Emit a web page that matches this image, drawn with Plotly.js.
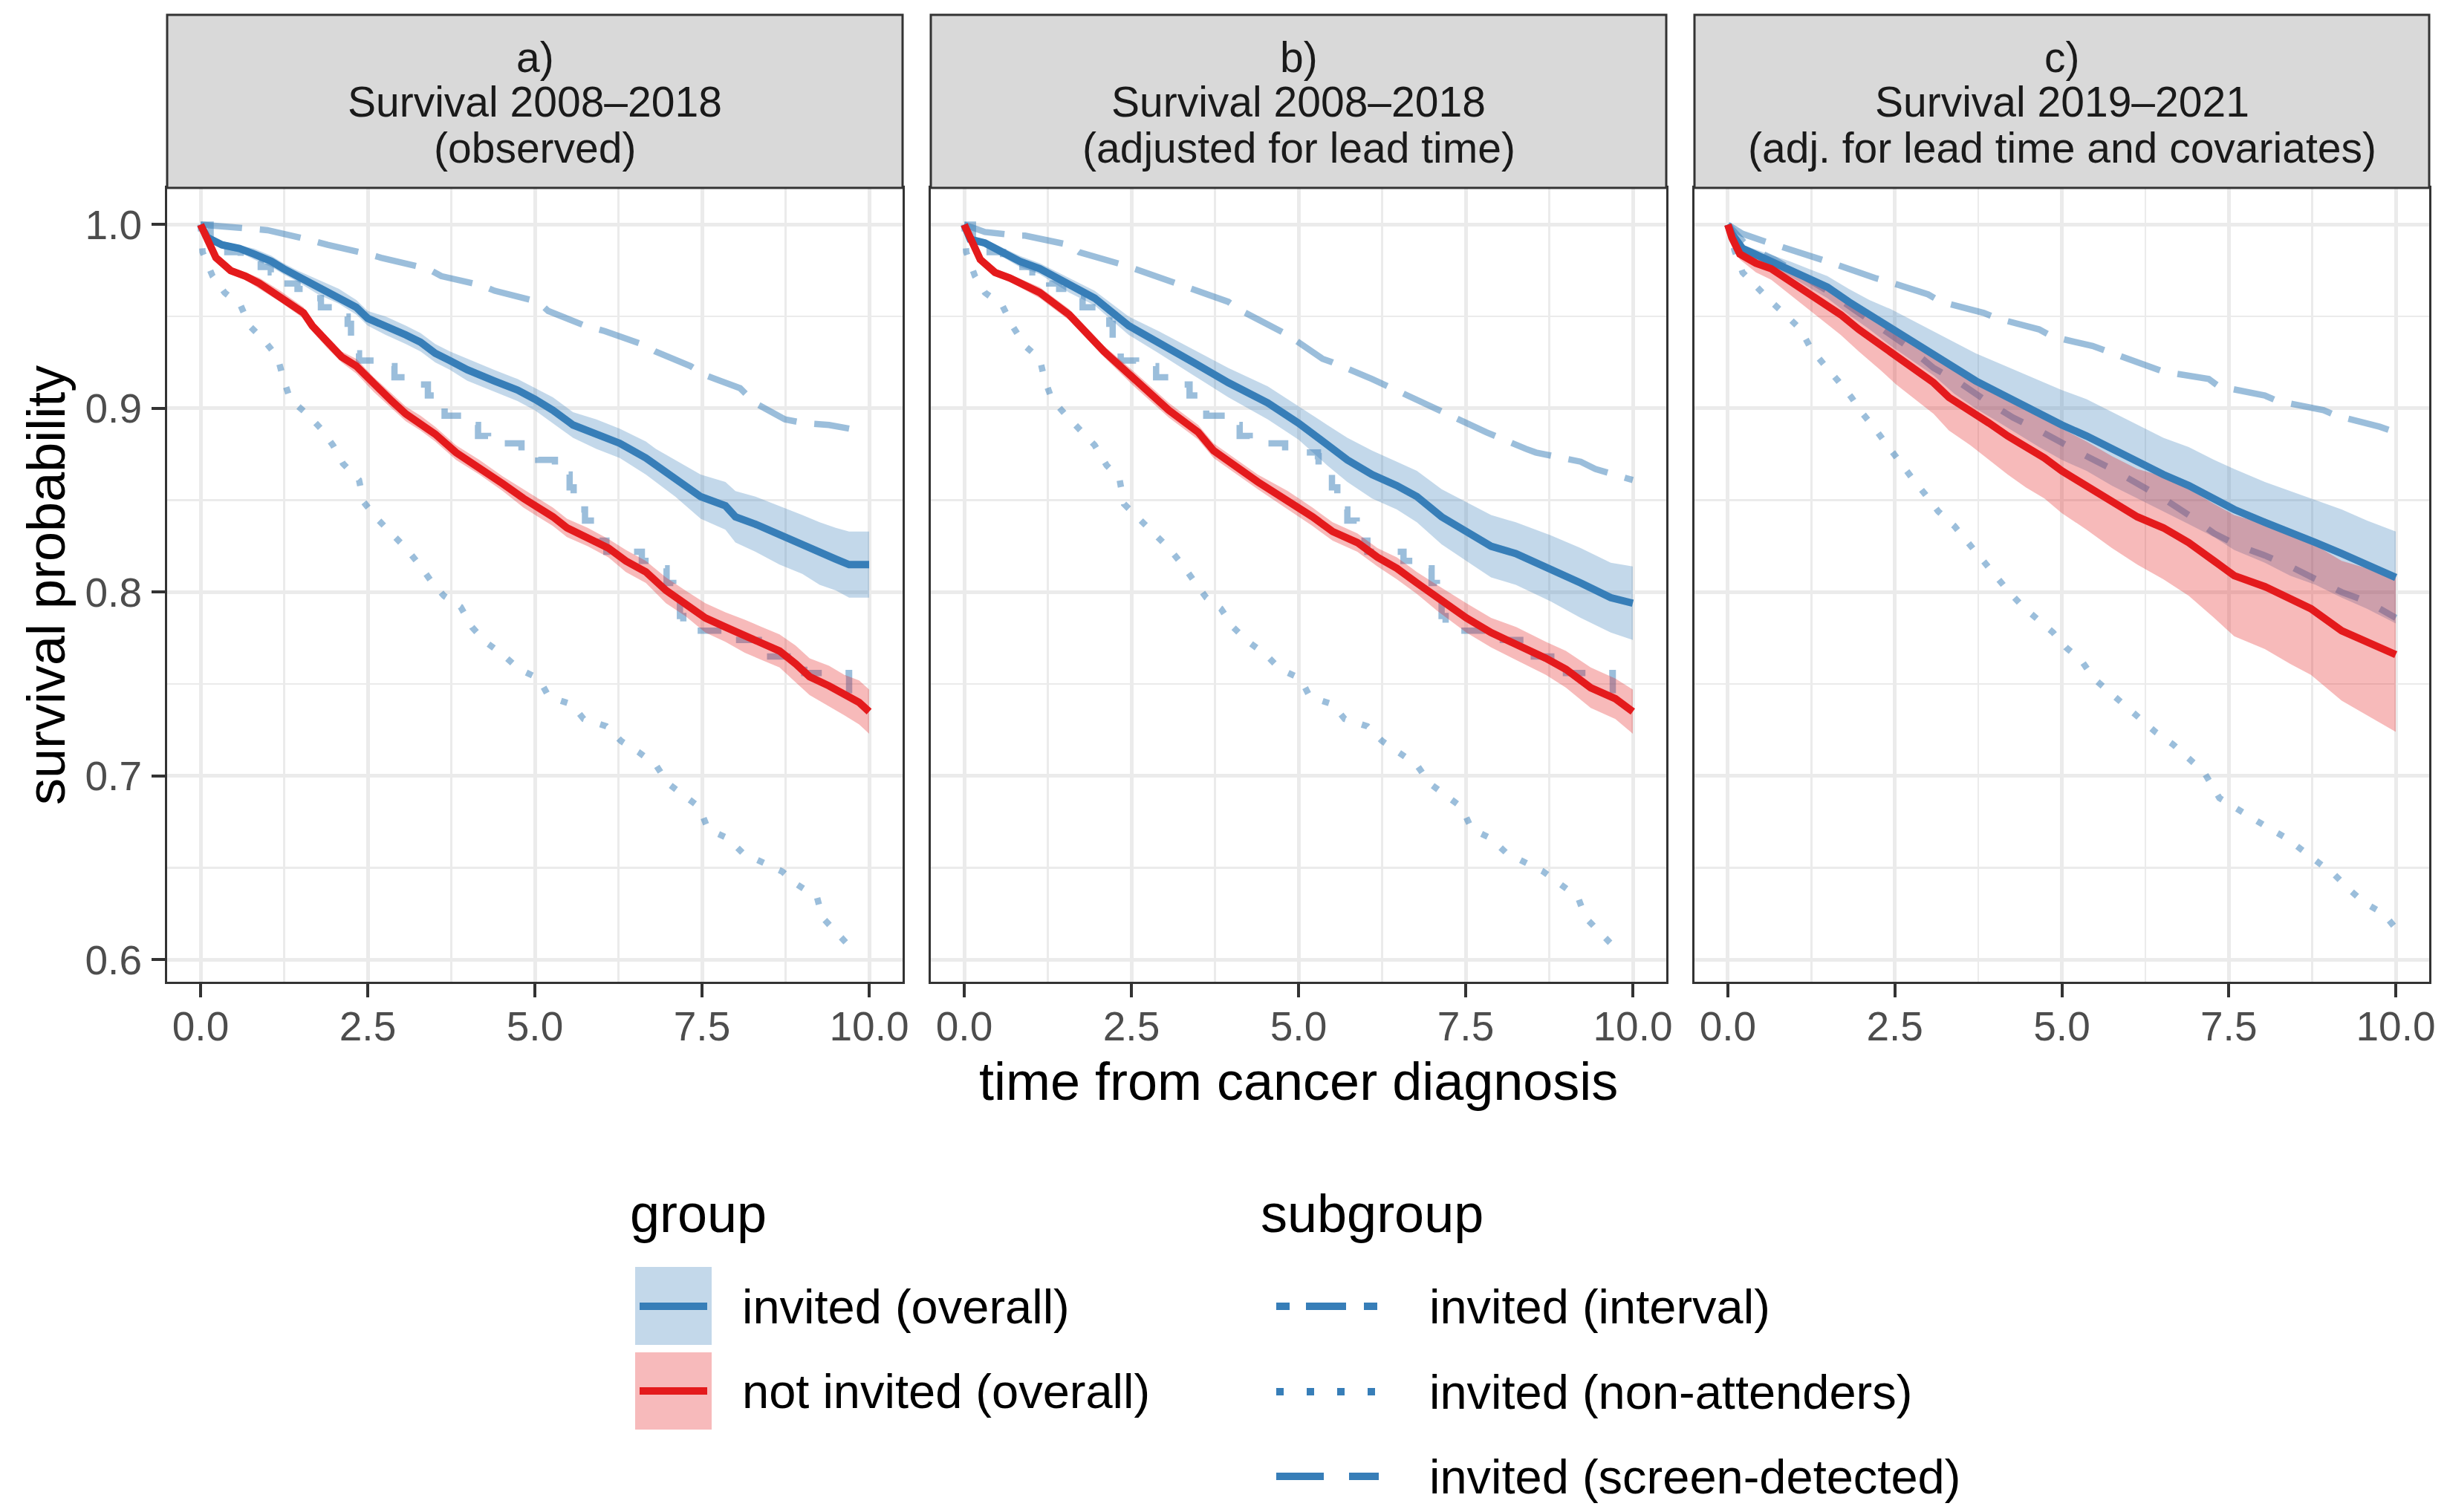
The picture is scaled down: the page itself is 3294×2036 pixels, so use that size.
<!DOCTYPE html>
<html><head><meta charset="utf-8">
<script src="https://cdn.plot.ly/plotly-3.0.1.min.js"></script>
<style>html,body{margin:0;padding:0;background:#fff}</style>
</head><body><div id="chart" style="width:3294px;height:2036px"></div>
<script>
// ---------------- DATA ----------------
const stripLine1 = ['a)', 'b)', 'c)'];
const stripLine2 = ['Survival 2008–2018', 'Survival 2008–2018', 'Survival 2019–2021'];
const stripLine3 = ['(observed)', '(adjusted for lead time)', '(adj. for lead time and covariates)'];
const groupLabels = ['invited (overall)', 'not invited (overall)'];
const subgroupLabels = ['invited (interval)', 'invited (non-attenders)', 'invited (screen-detected)'];
const xTitle = 'time from cancer diagnosis';
const yTitle = 'survival probability';

// Panel a – observed
const aInvT  = [0,0.1,0.32,0.58,0.8,1.06,1.24,1.45,1.76,2.07,2.33,2.5,2.77,3.07,3.29,3.51,3.73,3.99,4.39,4.74,5.0,5.27,5.57,5.92,6.27,6.66,6.81,7.1,7.48,7.85,8.0,8.3,8.66,9.0,9.26,9.5,9.7,10];
const aInvS  = [1.0,0.993,0.989,0.987,0.984,0.980,0.976,0.972,0.966,0.961,0.955,0.949,0.945,0.940,0.936,0.930,0.926,0.921,0.915,0.910,0.905,0.899,0.891,0.886,0.881,0.873,0.869,0.862,0.852,0.847,0.841,0.837,0.831,0.826,0.821,0.818,0.815,0.815];
const aInvHi = [1.0,0.995,0.991,0.989,0.987,0.983,0.979,0.975,0.970,0.965,0.959,0.953,0.950,0.945,0.941,0.935,0.931,0.927,0.921,0.916,0.911,0.906,0.898,0.894,0.889,0.882,0.878,0.872,0.864,0.860,0.855,0.852,0.847,0.842,0.838,0.835,0.833,0.833];
const aInvLo = [1.0,0.991,0.987,0.985,0.981,0.977,0.973,0.969,0.962,0.957,0.951,0.945,0.940,0.935,0.931,0.925,0.921,0.915,0.909,0.904,0.899,0.892,0.884,0.878,0.873,0.864,0.860,0.852,0.840,0.834,0.827,0.822,0.815,0.810,0.804,0.801,0.797,0.797];

const aNotT  = [0,0.1,0.23,0.45,0.67,0.88,1.19,1.54,1.67,1.89,2.11,2.33,2.59,2.86,3.07,3.29,3.51,3.82,4.17,4.52,4.83,5.05,5.27,5.48,5.79,6.1,6.36,6.66,6.96,7.25,7.55,7.85,8.14,8.4,8.66,8.9,9.11,9.4,9.63,9.85,10];
const aNotS  = [1.0,0.992,0.982,0.975,0.972,0.968,0.961,0.952,0.945,0.936,0.928,0.923,0.913,0.904,0.897,0.892,0.886,0.876,0.868,0.859,0.851,0.846,0.841,0.835,0.830,0.824,0.817,0.811,0.801,0.794,0.786,0.781,0.776,0.772,0.768,0.761,0.754,0.749,0.744,0.740,0.735];
const aNotHi = [1.0,0.994,0.984,0.977,0.974,0.971,0.964,0.955,0.948,0.939,0.931,0.927,0.917,0.908,0.901,0.896,0.890,0.880,0.872,0.863,0.856,0.851,0.846,0.840,0.835,0.829,0.823,0.817,0.808,0.801,0.794,0.789,0.785,0.781,0.777,0.771,0.764,0.760,0.755,0.752,0.747];
const aNotLo = [1.0,0.990,0.980,0.973,0.970,0.965,0.958,0.949,0.942,0.933,0.925,0.919,0.909,0.900,0.893,0.888,0.882,0.872,0.864,0.855,0.846,0.841,0.836,0.830,0.825,0.819,0.811,0.805,0.794,0.787,0.778,0.773,0.767,0.763,0.759,0.751,0.744,0.738,0.733,0.728,0.723];

const aIntT = [0,0.15,0.4,0.6,0.9,1.05,1.3,1.45,1.6,1.8,2.0,2.2,2.25,2.33,2.37,2.6,2.9,3.25,3.4,3.55,3.65,3.95,4.15,4.3,4.8,5.05,5.3,5.44,5.52,5.58,5.66,5.75,5.9,5.97,6.07,6.6,6.85,6.97,7.07,7.17,7.22,7.85,8.35,9.03,9.7,10];
const aIntS = [1.0,0.990,0.985,0.980,0.977,0.974,0.968,0.965,0.960,0.955,0.950,0.946,0.938,0.930,0.926,0.923,0.917,0.913,0.907,0.901,0.896,0.891,0.885,0.881,0.876,0.872,0.868,0.864,0.857,0.851,0.845,0.839,0.833,0.828,0.822,0.817,0.813,0.805,0.796,0.787,0.779,0.774,0.765,0.756,0.744,0.744];

const aNonT = [0,0.03,0.18,0.36,0.6,0.73,0.95,1.15,1.24,1.34,1.59,1.8,1.98,2.13,2.37,2.44,2.64,2.86,3.07,3.25,3.45,3.64,3.89,4.06,4.26,4.52,4.77,5.06,5.21,5.55,5.73,6.07,6.29,6.55,6.81,6.99,7.22,7.46,7.59,7.89,8.11,8.4,8.7,8.92,9.22,9.3,9.52,9.74,9.8];
const aNonS = [1.0,0.985,0.972,0.963,0.956,0.945,0.937,0.928,0.916,0.905,0.897,0.889,0.880,0.870,0.861,0.849,0.840,0.832,0.824,0.816,0.806,0.798,0.792,0.781,0.773,0.766,0.758,0.753,0.743,0.739,0.731,0.727,0.719,0.713,0.706,0.696,0.690,0.683,0.671,0.666,0.658,0.653,0.648,0.641,0.634,0.623,0.614,0.606,0.604];

const aScrT = [0,0.7,1.0,1.6,1.9,2.5,2.7,3.4,3.6,4.2,4.4,5.05,5.2,5.75,6.05,6.6,6.8,7.33,7.55,8.07,8.29,8.74,9.03,9.4,9.7];
const aScrS = [1.0,0.998,0.997,0.992,0.989,0.984,0.982,0.976,0.972,0.967,0.964,0.958,0.953,0.945,0.942,0.935,0.931,0.923,0.918,0.911,0.903,0.894,0.892,0.891,0.889];

// Panel b – adjusted for lead time
const bInvT  = [0,0.09,0.31,0.83,1.13,1.57,1.95,2.46,2.91,3.43,3.95,4.54,5.0,5.43,5.73,6.1,6.47,6.77,7.14,7.51,7.88,8.25,8.77,9.22,9.67,10];
const bInvS  = [1.0,0.992,0.990,0.980,0.976,0.967,0.960,0.945,0.936,0.925,0.914,0.903,0.892,0.880,0.872,0.864,0.858,0.852,0.841,0.833,0.825,0.821,0.813,0.805,0.797,0.794];
const bInvHi = [1.0,0.994,0.992,0.983,0.979,0.971,0.964,0.950,0.942,0.932,0.922,0.912,0.901,0.891,0.884,0.877,0.871,0.866,0.856,0.849,0.842,0.838,0.831,0.824,0.816,0.814];
const bInvLo = [1.0,0.990,0.988,0.977,0.973,0.963,0.956,0.940,0.930,0.918,0.906,0.894,0.883,0.869,0.860,0.851,0.845,0.838,0.826,0.817,0.808,0.804,0.795,0.786,0.778,0.774];

const bNotT  = [0,0.09,0.24,0.46,0.68,1.13,1.57,2.09,2.54,3.06,3.5,3.73,4.39,4.84,5.21,5.51,5.88,6.18,6.47,6.77,7.07,7.51,7.88,8.26,8.7,9.0,9.37,9.74,10];
const bNotS  = [1.0,0.992,0.981,0.974,0.971,0.963,0.951,0.931,0.916,0.899,0.887,0.877,0.860,0.850,0.841,0.833,0.827,0.819,0.813,0.805,0.797,0.786,0.778,0.772,0.764,0.758,0.748,0.742,0.735];
const bNotHi = [1.0,0.994,0.983,0.976,0.973,0.966,0.954,0.934,0.920,0.903,0.891,0.881,0.864,0.855,0.846,0.838,0.832,0.824,0.819,0.811,0.804,0.794,0.786,0.781,0.773,0.768,0.759,0.753,0.747];
const bNotLo = [1.0,0.990,0.979,0.972,0.969,0.960,0.948,0.928,0.912,0.895,0.883,0.873,0.856,0.845,0.836,0.828,0.822,0.814,0.807,0.799,0.790,0.778,0.770,0.763,0.755,0.748,0.737,0.731,0.723];

const bIntT = [0,0.13,0.38,0.58,0.87,1.02,1.27,1.42,1.57,1.77,1.97,2.17,2.22,2.3,2.34,2.57,2.87,3.22,3.37,3.52,3.62,3.92,4.12,4.27,4.8,5.29,5.3,5.43,5.5,5.58,5.66,5.73,5.87,5.94,6.03,6.57,6.84,6.99,7.07,7.14,7.2,7.88,8.4,9.0,9.7,10];
const bIntS = [1.0,0.990,0.985,0.980,0.977,0.974,0.968,0.965,0.960,0.955,0.950,0.946,0.938,0.930,0.926,0.923,0.917,0.913,0.907,0.901,0.896,0.891,0.885,0.881,0.876,0.874,0.868,0.864,0.857,0.851,0.845,0.839,0.833,0.828,0.822,0.817,0.813,0.805,0.796,0.787,0.779,0.774,0.765,0.756,0.744,0.744];

const bNonT = [0,0.03,0.16,0.31,0.57,0.72,0.91,1.13,1.2,1.31,1.53,1.76,1.95,2.13,2.32,2.39,2.61,2.84,3.06,3.24,3.43,3.62,3.84,4.02,4.25,4.51,4.73,5.03,5.17,5.51,5.69,6.03,6.25,6.51,6.77,6.96,7.18,7.44,7.59,7.88,8.11,8.4,8.66,8.92,9.18,9.29,9.52,9.74,9.8];
const bNonS = [1.0,0.985,0.972,0.963,0.956,0.945,0.934,0.927,0.916,0.905,0.896,0.887,0.880,0.869,0.862,0.848,0.840,0.832,0.824,0.816,0.806,0.797,0.791,0.781,0.773,0.766,0.758,0.753,0.743,0.739,0.731,0.727,0.719,0.713,0.706,0.696,0.690,0.683,0.671,0.666,0.658,0.653,0.648,0.641,0.634,0.623,0.614,0.606,0.604];

const bScrT = [0,0.31,0.83,0.91,1.57,1.72,2.39,2.54,3.21,3.36,3.95,4.1,4.69,4.84,5.36,5.51,6.1,6.33,6.85,7.07,7.59,7.81,8.4,8.55,9.22,9.44,10];
const bScrS = [1.0,0.996,0.994,0.994,0.989,0.985,0.978,0.976,0.967,0.965,0.958,0.954,0.943,0.940,0.927,0.925,0.916,0.912,0.903,0.900,0.891,0.887,0.878,0.876,0.871,0.867,0.861];

// Panel c – 2019–2021, adjusted for lead time and covariates
const cInvT  = [0,0.06,0.22,0.46,0.69,0.93,1.21,1.49,1.81,2.12,2.44,2.76,3.08,3.39,3.71,4.03,4.35,4.66,5.0,5.37,5.75,6.13,6.52,6.9,7.28,7.58,8.04,8.42,8.8,9.19,9.57,10];
const cInvS  = [1.0,0.995,0.987,0.983,0.980,0.976,0.971,0.966,0.958,0.951,0.944,0.937,0.930,0.922,0.915,0.909,0.903,0.897,0.891,0.885,0.878,0.871,0.864,0.858,0.851,0.845,0.838,0.832,0.827,0.821,0.815,0.808];
const cInvHi = [1.0,0.996,0.989,0.986,0.983,0.980,0.976,0.972,0.965,0.959,0.954,0.948,0.942,0.936,0.930,0.925,0.920,0.915,0.910,0.905,0.898,0.891,0.884,0.879,0.872,0.867,0.860,0.855,0.850,0.845,0.839,0.833];
const cInvLo = [1.0,0.994,0.985,0.980,0.977,0.972,0.966,0.960,0.951,0.943,0.934,0.926,0.918,0.908,0.900,0.893,0.886,0.879,0.872,0.866,0.858,0.851,0.844,0.837,0.830,0.823,0.816,0.809,0.804,0.797,0.791,0.783];

const cNotT  = [0,0.06,0.18,0.42,0.65,0.89,1.21,1.41,1.69,1.96,2.28,2.52,2.8,3.08,3.31,3.63,3.91,4.19,4.46,4.74,5.0,5.37,5.75,6.13,6.52,6.9,7.28,7.58,8.04,8.42,8.73,9.19,9.57,10];
const cNotS  = [1.0,0.993,0.984,0.979,0.976,0.970,0.963,0.958,0.951,0.943,0.935,0.928,0.921,0.914,0.906,0.899,0.892,0.885,0.879,0.873,0.866,0.858,0.849,0.841,0.835,0.827,0.817,0.809,0.803,0.796,0.791,0.779,0.773,0.766];
const cNotHi = [1.0,0.995,0.987,0.984,0.982,0.977,0.972,0.968,0.962,0.955,0.949,0.943,0.937,0.931,0.924,0.918,0.912,0.906,0.901,0.895,0.889,0.882,0.874,0.867,0.863,0.856,0.848,0.842,0.837,0.831,0.827,0.817,0.813,0.808];
const cNotLo = [1.0,0.991,0.981,0.974,0.970,0.963,0.954,0.948,0.940,0.931,0.921,0.913,0.905,0.897,0.888,0.880,0.872,0.864,0.857,0.851,0.843,0.834,0.824,0.815,0.807,0.798,0.786,0.776,0.769,0.761,0.755,0.741,0.733,0.724];

const cIntT = [0,0.3,0.7,1.09,1.49,1.88,2.28,2.68,3.08,3.47,3.87,4.27,4.66,5.0,5.37,5.75,6.13,6.52,6.9,7.28,7.66,8.04,8.42,8.8,9.19,9.57,10];
const cIntS = [1.0,0.988,0.981,0.973,0.964,0.954,0.944,0.934,0.922,0.914,0.904,0.895,0.888,0.881,0.874,0.867,0.859,0.851,0.842,0.832,0.825,0.820,0.814,0.807,0.800,0.795,0.786];

const cNonT = [0,0.1,0.22,0.42,0.65,0.89,1.09,1.25,1.45,1.65,1.85,2.0,2.2,2.4,2.6,2.76,2.96,3.15,3.39,3.59,3.79,3.99,4.19,4.42,4.66,4.87,5.06,5.29,5.48,5.71,5.94,6.17,6.4,6.67,6.9,7.13,7.36,7.79,8.08,8.37,8.59,8.8,9.09,9.31,9.53,9.82,10];
const cNonS = [1.0,0.986,0.974,0.966,0.958,0.950,0.943,0.932,0.924,0.915,0.906,0.898,0.889,0.879,0.870,0.862,0.853,0.844,0.836,0.827,0.818,0.810,0.801,0.792,0.784,0.778,0.770,0.763,0.753,0.746,0.739,0.731,0.724,0.717,0.710,0.702,0.688,0.678,0.672,0.666,0.660,0.654,0.646,0.638,0.631,0.625,0.617];

const cScrT = [0,0.22,0.54,1.0,1.37,1.57,2.2,2.4,3.0,3.19,3.83,4.03,4.66,4.86,5.46,6.0,6.52,7.2,7.35,8.04,8.23,8.92,9.11,9.76,10];
const cScrS = [1.0,0.995,0.991,0.986,0.982,0.979,0.971,0.969,0.962,0.958,0.952,0.949,0.943,0.939,0.934,0.927,0.920,0.916,0.912,0.907,0.904,0.899,0.896,0.890,0.887];

// ---------------- STYLE / LAYOUT CONSTANTS ----------------
const FONT = 'Liberation Sans, Arial, Helvetica, sans-serif';
const W = 3294, H = 2036, ML = 225, MR = 24, MT = 253, MB = 714;
const PW = W - ML - MR, PH = H - MT - MB;
const X = px => (px - ML) / PW;
const Y = py => (H - MB - py) / PH;
const panelEdges = [[225, 1215], [1253, 2243], [2281, 3270]];
const BLUE = '#377EB8', RED = '#E41A1C';
const BLUE_RIB = 'rgba(55,126,184,0.3)', RED_RIB = 'rgba(228,26,28,0.3)';
const SUB_COL = 'rgba(55,126,184,0.5)';
const DASH_INT = '32px,32px', DASH_NON = '9px,23px', DASH_SCR = '56px,24px';

const panels = [
  {inv:[aInvT,aInvS,aInvHi,aInvLo], not:[aNotT,aNotS,aNotHi,aNotLo], int:[aIntT,aIntS], non:[aNonT,aNonS], scr:[aScrT,aScrS], intShape:'hv'},
  {inv:[bInvT,bInvS,bInvHi,bInvLo], not:[bNotT,bNotS,bNotHi,bNotLo], int:[bIntT,bIntS], non:[bNonT,bNonS], scr:[bScrT,bScrS], intShape:'hv'},
  {inv:[cInvT,cInvS,cInvHi,cInvLo], not:[cNotT,cNotS,cNotHi,cNotLo], int:[cIntT,cIntS], non:[cNonT,cNonS], scr:[cScrT,cScrS], intShape:'linear'}
];

const traces = [];
panels.forEach((p, i) => {
  const xa = 'x' + (i ? i + 1 : ''), ya = 'y' + (i ? i + 1 : '');
  const line = (t, s, color, width, dash, shape) => ({
    type: 'scatter', mode: 'lines', x: t, y: s, xaxis: xa, yaxis: ya,
    line: {color: color, width: width, dash: dash, shape: shape || 'linear'},
    hoverinfo: 'skip', showlegend: false
  });
  const ribbon = (t, hi, lo, color) => ({
    type: 'scatter', mode: 'lines', xaxis: xa, yaxis: ya,
    x: t.concat(t.slice().reverse()), y: hi.concat(lo.slice().reverse()),
    fill: 'toself', fillcolor: color, line: {width: 0}, hoverinfo: 'skip', showlegend: false
  });
  traces.push(line(p.non[0], p.non[1], SUB_COL, 8.5, DASH_NON));
  traces.push(line(p.int[0], p.int[1], SUB_COL, 8.5, DASH_INT, p.intShape));
  traces.push(line(p.scr[0], p.scr[1], SUB_COL, 8.5, DASH_SCR));
  traces.push(ribbon(p.inv[0], p.inv[2], p.inv[3], BLUE_RIB));
  traces.push(ribbon(p.not[0], p.not[2], p.not[3], RED_RIB));
  traces.push(line(p.inv[0], p.inv[1], BLUE, 10, 'solid'));
  traces.push(line(p.not[0], p.not[1], RED, 10, 'solid'));
});

const layout = {
  width: W, height: H, margin: {l: ML, r: MR, t: MT, b: MB, pad: 0},
  paper_bgcolor: '#ffffff', plot_bgcolor: '#ffffff', showlegend: false,
  font: {family: FONT, color: '#000000'},
  shapes: [], annotations: []
};

panelEdges.forEach((e, i) => {
  const s = i ? String(i + 1) : '';
  layout['xaxis' + s] = {
    domain: [X(e[0]), X(e[1])], anchor: 'y' + s, range: [-0.5, 10.5],
    tickmode: 'array', tickvals: [0, 2.5, 5, 7.5, 10], tickformat: '.1f',
    ticks: 'outside', ticklen: 18, tickwidth: 4, tickcolor: '#333333', ticklabelstandoff: -8,
    tickfont: {family: FONT, size: 55, color: '#4D4D4D'},
    showgrid: true, gridcolor: '#EBEBEB', gridwidth: 5,
    minor: {tickmode: 'array', tickvals: [1.25, 3.75, 6.25, 8.75], showgrid: true, gridcolor: '#EBEBEB', gridwidth: 2.5, ticks: ''},
    showline: true, mirror: true, linecolor: '#333333', linewidth: 3, zeroline: false, fixedrange: true
  };
  layout['yaxis' + s] = {
    domain: [0, 1], anchor: 'x' + s, range: [0.588, 1.02],
    tickmode: 'array', tickvals: [0.6, 0.7, 0.8, 0.9, 1.0], tickformat: '.1f',
    ticks: i ? '' : 'outside', ticklen: 18, tickwidth: 4, tickcolor: '#333333', ticklabelstandoff: 2,
    showticklabels: i === 0,
    tickfont: {family: FONT, size: 55, color: '#4D4D4D'},
    showgrid: true, gridcolor: '#EBEBEB', gridwidth: 5,
    minor: {tickmode: 'array', tickvals: [0.65, 0.75, 0.85, 0.95], showgrid: true, gridcolor: '#EBEBEB', gridwidth: 2.5, ticks: ''},
    showline: true, mirror: true, linecolor: '#333333', linewidth: 3, zeroline: false, fixedrange: true
  };
  // strip
  layout.shapes.push({type: 'rect', xref: 'paper', yref: 'paper', x0: X(e[0]), x1: X(e[1]), y0: Y(253), y1: Y(20),
    fillcolor: '#D9D9D9', line: {color: '#333333', width: 3}, layer: 'above'});
  const cx = X((e[0] + e[1]) / 2);
  [[stripLine1[i], 77], [stripLine2[i], 137], [stripLine3[i], 199]].forEach(([txt, py]) => {
    layout.annotations.push({xref: 'paper', yref: 'paper', x: cx, y: Y(py), xanchor: 'center', yanchor: 'middle',
      text: txt, showarrow: false, font: {family: FONT, size: 57, color: '#1A1A1A'}});
  });
});

// axis titles
layout.annotations.push({xref: 'paper', yref: 'paper', x: X((225 + 3270) / 2), y: Y(1456), xanchor: 'center', yanchor: 'middle',
  text: xTitle, showarrow: false, font: {family: FONT, size: 72, color: '#000000'}});
layout.annotations.push({xref: 'paper', yref: 'paper', x: X(62), y: Y(788), xanchor: 'center', yanchor: 'middle', textangle: -90,
  text: yTitle, showarrow: false, font: {family: FONT, size: 72, color: '#000000'}});

// legend: group / subgroup
layout.annotations.push({xref: 'paper', yref: 'paper', x: X(846), y: Y(1634), xanchor: 'left', yanchor: 'middle',
  text: 'group', showarrow: false, font: {family: FONT, size: 72, color: '#000000'}});
layout.annotations.push({xref: 'paper', yref: 'paper', x: X(1695), y: Y(1634), xanchor: 'left', yanchor: 'middle',
  text: 'subgroup', showarrow: false, font: {family: FONT, size: 72, color: '#000000'}});
const groupKeys = [[1706, 1811, 1759, 'rgb(195,216,234)', BLUE], [1821, 1925, 1873, 'rgb(247,186,187)', RED]];
groupKeys.forEach(([y0, y1, yl, fc, lc], k) => {
  layout.shapes.push({type: 'rect', xref: 'paper', yref: 'paper', x0: X(855), x1: X(958), y0: Y(y1), y1: Y(y0),
    fillcolor: fc, line: {width: 0}});
  layout.shapes.push({type: 'line', xref: 'paper', yref: 'paper', x0: X(861), x1: X(952), y0: Y(yl), y1: Y(yl),
    line: {color: lc, width: 10}});
  layout.annotations.push({xref: 'paper', yref: 'paper', x: X(997), y: Y(yl), xanchor: 'left', yanchor: 'middle',
    text: groupLabels[k], showarrow: false, font: {family: FONT, size: 65, color: '#000000'}});
});
const subKeys = [[1759, '18px,22px,54px,24px,18px'], [1874, '10px,31px'], [1988, '64px,34px']];
subKeys.forEach(([yl, dash], k) => {
  layout.shapes.push({type: 'line', xref: 'paper', yref: 'paper', x0: X(1718), x1: X(1856), y0: Y(yl), y1: Y(yl),
    line: {color: BLUE, width: 10, dash: dash}});
  layout.annotations.push({xref: 'paper', yref: 'paper', x: X(1922), y: Y(yl), xanchor: 'left', yanchor: 'middle',
    text: subgroupLabels[k], showarrow: false, font: {family: FONT, size: 65, color: '#000000'}});
});

Plotly.newPlot('chart', traces, layout, {staticPlot: true, displayModeBar: false});
</script>
</body></html>
